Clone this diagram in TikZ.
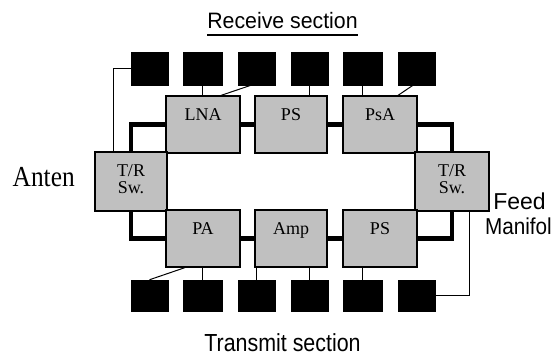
\documentclass[tikz,border=0pt]{standalone}
\usepackage{fontspec}
\usetikzlibrary{backgrounds}
\setmainfont{Liberation Serif}
\newfontfamily\arialf{Liberation Sans}
\definecolor{boxgray}{HTML}{C0C0C0}
\begin{document}
\begin{tikzpicture}[x=1pt,y=-1pt,
  blk/.style={fill=black,draw=black,line width=0.5pt,minimum width=37pt,minimum height=33pt,inner sep=0pt},
  blkb/.style={blk,minimum height=31pt},
  gbox/.style={fill=boxgray,draw=black,line width=1.2pt,minimum width=73pt,minimum height=57pt,inner sep=0pt},
  lbl/.style={font=\fontsize{18}{17.6}\selectfont,align=center,inner sep=0pt,anchor=base,yshift=-24.7pt},
  lbltwo/.style={lbl,yshift=-17.6pt},
  thickln/.style={line width=4.6pt,line join=miter},
  thinln/.style={line width=1pt},
  sanst/.style={inner sep=0pt,outer sep=0pt}
]
\useasboundingbox (0,0) rectangle (553,358);

% gray boxes
\node[gbox,minimum width=74pt,label={[lbl]north:LNA}] (LNA) at (203,124.5) {};
\node[gbox,minimum width=72pt,label={[lbl]north:PS}] (PS1) at (291,124.5) {};
\node[gbox,minimum width=74pt,label={[lbl]north:PsA}] (PsA) at (380,124.5) {};
\node[gbox,minimum width=72pt,minimum height=59pt,label={[lbltwo]north:T/R\\Sw.}] (TRL) at (131,181.5) {};
\node[gbox,minimum width=74pt,minimum height=59pt,label={[lbltwo]north:T/R\\Sw.}] (TRR) at (452,181.5) {};
\node[gbox,minimum width=74pt,label={[lbl]north:PA}] (PA) at (203,238.5) {};
\node[gbox,minimum width=72pt,label={[lbl]north:Amp}] (Amp) at (291,238.5) {};
\node[gbox,minimum width=74pt,label={[lbl]north:PS}] (PS2) at (380,238.5) {};

% black squares
\node[blk] (t1) at (149.5,68.5) {};
\node[blk,minimum width=39pt] (t2) at (202.5,68.5) {};
\node[blk] (t3) at (256.5,68.5) {};
\node[blk] (t4) at (309.5,68.5) {};
\node[blk,minimum width=39pt] (t5) at (362.5,68.5) {};
\node[blk] (t6) at (416.5,68.5) {};
\node[blkb] (b1) at (149.5,295.5) {};
\node[blkb,minimum width=39pt] (b2) at (202.5,295.5) {};
\node[blkb] (b3) at (256.5,295.5) {};
\node[blkb] (b4) at (309.5,295.5) {};
\node[blkb,minimum width=39pt] (b5) at (362.5,295.5) {};
\node[blkb] (b6) at (416.5,295.5) {};

\begin{scope}[on background layer]
% thick connectors
\draw[thickln] (TRL.north) |- (LNA.west);
\draw[thickln] (LNA.east) -- (PS1.west);
\draw[thickln] (PS1.east) -- (PsA.west);
\draw[thickln] (PsA.east) -| (TRR.north);
\draw[thickln] (TRL.south) |- (PA.west);
\draw[thickln] (PA.east) -- (Amp.west);
\draw[thickln] (Amp.east) -- (PS2.west);
\draw[thickln] (PS2.east) -| (TRR.south);

% thin connectors
\draw[thinln] (t1.west) -| ([xshift=-18pt]TRL.north);
\draw[thinln] (t2.south) -- (t2.south |- LNA.north);
\draw[thinln] ([xshift=-5.5pt]t3.south) -- ([xshift=18pt]LNA.north);
\draw[thinln] (t4.south) -- (t4.south |- PS1.north);
\draw[thinln] (t5.south) -- (t5.south |- PsA.north);
\draw[thinln] ([xshift=-3.5pt]t6.south) -- ([xshift=18pt]PsA.north);
\draw[thinln] (b1.north) -- ([xshift=-18pt]PA.south);
\draw[thinln] (b2.north) -- (b2.north |- PA.south);
\draw[thinln] (b3.north) -- (b3.north |- Amp.south);
\draw[thinln] (b4.north) -- (b4.north |- Amp.south);
\draw[thinln] (b5.north) -- (b5.north |- PS2.south);
\draw[thinln] (b6.east) -| ([xshift=17pt]TRR.south);
\end{scope}

% texts
\node[sanst,anchor=base,font=\arialf\fontsize{22.3}{24}\selectfont,xscale=0.955] (rcv) at (282.5,28.3) {Receive section};
\draw[line width=2pt] ([yshift=-7.2pt]rcv.base west) -- ([yshift=-7.2pt]rcv.base east);
\node[sanst,anchor=base,font=\arialf\fontsize{24.7}{26}\selectfont,xscale=0.867] (tx) at (282.5,351) {Transmit section};
\node[sanst,anchor=base west,font=\fontsize{29}{30}\selectfont,xscale=0.875] (ant) at (12.7,186.7) {Anten};
\node[sanst,anchor=base west,font=\arialf\fontsize{23}{24}\selectfont] (feed) at (493.3,209) {Feed};
\node[sanst,anchor=base west,font=\arialf\fontsize{23}{24}\selectfont,xscale=0.9] (mani) at (485,234.3) {Manifol};
\end{tikzpicture}
\end{document}
